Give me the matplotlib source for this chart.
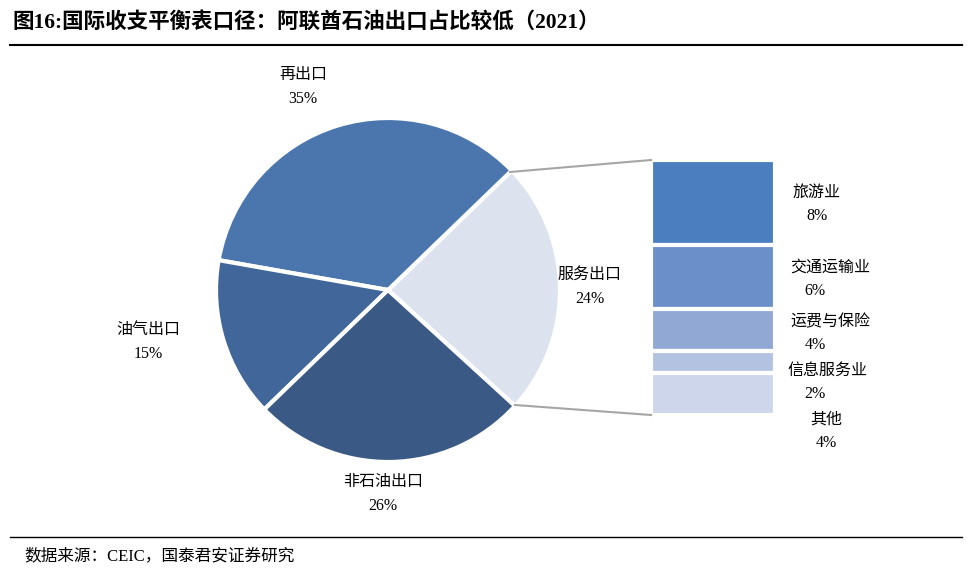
import matplotlib
matplotlib.use('Agg')
import matplotlib.pyplot as plt

# 数据
pie_labels = ['服务出口', '再出口', '油气出口', '非石油出口']
pie_values = [24, 35, 15, 26]
pie_colors = ['#dde3ee', '#4a76ad', '#41679a', '#3a5a85']

svc_labels = ['旅游业', '交通运输业', '运费与保险', '信息服务业', '其他']
svc_values = [8, 6, 4, 2, 4]
svc_colors = ['#4a7ebf', '#6b8fc9', '#91a8d4', '#b3c2e0', '#cdd6eb']

FONT = ['Liberation Serif', 'Noto Sans CJK SC']
H = 580

fig = plt.figure(figsize=(9.72, 5.8), dpi=100)
ax = fig.add_axes([0, 0, 1, 1])
ax.set_xlim(0, 972)
ax.set_ylim(0, H)
ax.axis('off')

# 饼图
cx, cy, r = 388, H - 290, 172
ax.pie(pie_values, colors=pie_colors, startangle=-42.4, counterclock=True,
       center=(cx, cy), radius=r, frame=True,
       wedgeprops=dict(edgecolor='white', linewidth=3))
ax.set_xlim(0, 972)
ax.set_ylim(0, H)
ax.set_aspect('equal')
ax.axis('off')

# 右侧堆叠柱
top, bottom = 160, 415
unit = (bottom - top) / sum(svc_values)
y = H - top
for v, c in zip(svc_values, svc_colors):
    ax.bar(713, -v * unit, bottom=y, width=124, color=c, edgecolor='white', linewidth=3)
    y -= v * unit

# 连接线
ax.plot([510, 651], [H - 172, H - 160], color='#a6a6a6', lw=1.5)
ax.plot([515, 651], [H - 405, H - 415], color='#a6a6a6', lw=1.5)

def txt(x, yy, s, **kw):
    ax.text(x, H - yy, s, ha='center', va='center', fontsize=11.5, family=FONT, **kw)

for (x, yy), lab, v in zip([(590, 275), (303, 75), (148, 330), (383, 482)], pie_labels, pie_values):
    txt(x, yy, lab)
    txt(x, yy + 24, f'{v}%')

pos = [(817, 193), (830, 268), (830, 322), (827, 371), (826, 420)]
for (x, yy), lab, v in zip(pos, svc_labels, svc_values):
    txt(x, yy, lab)
    txt(x if lab in ('旅游业', '其他') else 815, yy + 23, f'{v}%')

# 标题与来源
ax.text(12, H - 22, '图16:国际收支平衡表口径：阿联酋石油出口占比较低（2021）', ha='left', va='center',
        fontsize=15.5, fontweight='bold', family=FONT)
ax.plot([10, 962], [H - 45, H - 45], color='black', lw=1.5)
ax.plot([10, 962], [H - 537, H - 537], color='black', lw=1)
ax.text(24, H - 556, '数据来源：CEIC，国泰君安证券研究', ha='left', va='center', fontsize=12, family=FONT)

fig.savefig('out.png', dpi=100)
